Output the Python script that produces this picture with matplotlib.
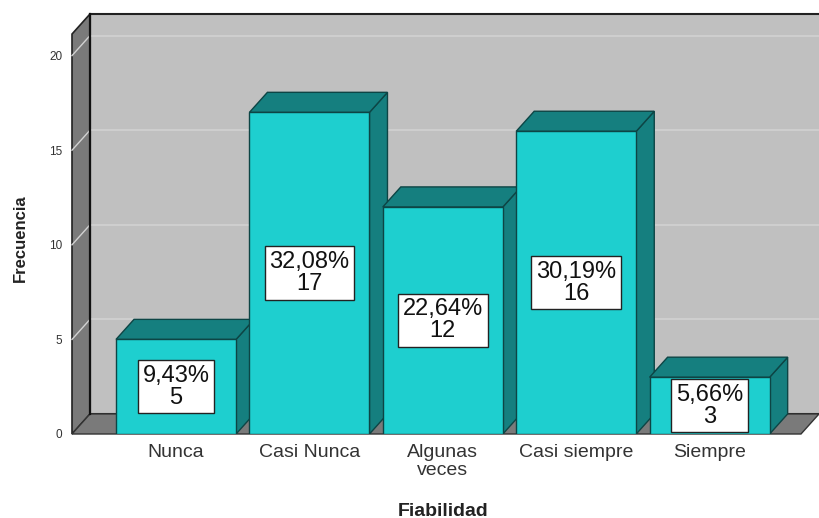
import matplotlib.pyplot as plt
from matplotlib.patches import Polygon, Rectangle

plt.rcParams['font.family'] = ['Liberation Sans', 'DejaVu Sans']

categorias = ['Nunca', 'Casi Nunca', 'Algunas\nveces', 'Casi siempre', 'Siempre']
frecuencia = [5, 17, 12, 16, 3]
porcentaje = ['9,43%', '32,08%', '22,64%', '30,19%', '5,66%']
yticks = [0, 5, 10, 15, 20]

# colores estilo SPSS
c_frente = '#1ecfcf'
c_lado = '#157f7f'
c_borde = '#0d4545'
c_pared = '#c0c0c0'
c_piso = '#7a7a7a'
c_grid = '#d2d2d2'

W, H = 819, 518
fig = plt.figure(figsize=(W / 100, H / 100), dpi=100)

# ejes: x unidad = 133.4 px, y unidad = 18.9 px
x0, x1 = -0.78, 4.82
y0, y1 = 0, 22.2
ax = fig.add_axes([72 / W, (H - 434) / H, (W - 72) / W, (434 - 14) / H])
ax.set_xlim(x0, x1)
ax.set_ylim(y0, y1)
for s in ax.spines.values():
    s.set_visible(False)

dx, dy = 0.135, 1.06   # profundidad 3D
bw = 0.9

# pared del fondo
ax.add_patch(Polygon([(x0 + dx, dy), (x1 + 0.2, dy), (x1 + 0.2, y1), (x0 + dx, y1)],
                     closed=True, fc=c_pared, ec='#222222', lw=1.5, zorder=1, clip_on=False))
# pared lateral
ax.add_patch(Polygon([(x0, 0), (x0 + dx, dy), (x0 + dx, y1), (x0, y1 - dy)],
                     closed=True, fc=c_piso, ec='#222222', lw=1.2, zorder=2, clip_on=False))
# lineas de cuadricula
for t in yticks[1:]:
    ax.plot([x0 + dx, x1 + 0.2], [t + dy, t + dy], color=c_grid, lw=1.2, zorder=1.5, clip_on=False)
    ax.plot([x0, x0 + dx], [t, t + dy], color=c_grid, lw=1.0, zorder=2.5, clip_on=False)
# piso
ax.add_patch(Polygon([(x0, 0), (x1 - dx, 0), (x1, dy), (x0 + dx, dy)],
                     closed=True, fc=c_piso, ec='#333333', lw=1.0, zorder=2, clip_on=False))
ax.plot([x0 + dx, x0 + dx], [dy, y1], color='#111111', lw=1.6, zorder=2.6, clip_on=False)

# barras 3D
for i, v in enumerate(frecuencia):
    l, r = i - bw / 2, i + bw / 2
    ax.add_patch(Polygon([(r, 0), (r + dx, dy), (r + dx, v + dy), (r, v)],
                         closed=True, fc=c_lado, ec=c_borde, lw=1.0, zorder=3))
    ax.add_patch(Polygon([(l, v), (r, v), (r + dx, v + dy), (l + dx, v + dy)],
                         closed=True, fc=c_lado, ec=c_borde, lw=1.0, zorder=3))
    ax.add_patch(Rectangle((l, 0), bw, v, fc=c_frente, ec=c_borde, lw=1.0, zorder=4))
    ax.text(i, v / 2, f'{porcentaje[i]}\n{v}', ha='center', va='center',
            fontsize=17, linespacing=1.0, color='#111111', zorder=5,
            bbox=dict(boxstyle='square,pad=0.2', fc='white', ec='#222222', lw=1.0))

ax.set_xticks(range(len(categorias)))
ax.set_xticklabels(categorias, fontsize=14, color='#333333', linespacing=1.1)
ax.set_yticks(yticks)
ax.set_yticklabels([str(t) for t in yticks], fontsize=8.5, color='#333333')
ax.tick_params(axis='both', length=0)
ax.tick_params(axis='x', pad=7)
ax.tick_params(axis='y', pad=7)

fig.text(443 / W, 1 - 511 / H, 'Fiabilidad', ha='center', va='center',
         fontsize=14, fontweight='bold', color='#222222')
fig.text(20 / W, 1 - 238 / H, 'Frecuencia', ha='center', va='center', rotation=90,
         fontsize=12, fontweight='bold', color='#222222')

fig.savefig('out.png', dpi=100, facecolor='white')
